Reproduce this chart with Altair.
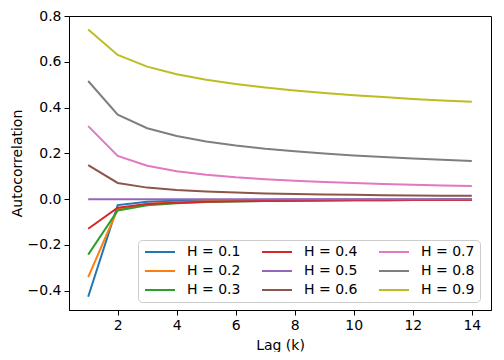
import altair as alt
import pandas as pd

lags = list(range(1, 15))
hurst = [0.1, 0.2, 0.3, 0.4, 0.5, 0.6, 0.7, 0.8, 0.9]

acf_h01 = [-0.426, -0.026, -0.0116, -0.0066, -0.0044, -0.0032, -0.0024, -0.0019, -0.0015, -0.0013, -0.0011, -0.0009, -0.0008, -0.0007]
acf_h02 = [-0.340, -0.044, -0.0215, -0.0131, -0.0091, -0.0068, -0.0053, -0.0043, -0.0036, -0.0030, -0.0026, -0.0022, -0.0020, -0.0018]
acf_h03 = [-0.242, -0.049, -0.0266, -0.0173, -0.0126, -0.0098, -0.0079, -0.0065, -0.0055, -0.0048, -0.0042, -0.0037, -0.0033, -0.0030]
acf_h04 = [-0.129, -0.037, -0.0214, -0.0151, -0.0116, -0.0093, -0.0077, -0.0066, -0.0057, -0.0050, -0.0045, -0.0041, -0.0037, -0.0034]
acf_h05 = [0.0, 0.0, 0.0, 0.0, 0.0, 0.0, 0.0, 0.0, 0.0, 0.0, 0.0, 0.0, 0.0, 0.0]
acf_h06 = [0.149, 0.071, 0.0505, 0.0396, 0.0331, 0.0287, 0.0253, 0.0227, 0.0206, 0.0190, 0.0176, 0.0164, 0.0154, 0.0145]
acf_h07 = [0.319, 0.189, 0.146, 0.122, 0.107, 0.0955, 0.0870, 0.0804, 0.0750, 0.0703, 0.0664, 0.0631, 0.0601, 0.0575]
acf_h08 = [0.516, 0.369, 0.310, 0.276, 0.252, 0.234, 0.220, 0.209, 0.199, 0.191, 0.184, 0.178, 0.172, 0.167]
acf_h09 = [0.741, 0.630, 0.579, 0.546, 0.522, 0.503, 0.488, 0.475, 0.464, 0.454, 0.446, 0.438, 0.431, 0.425]

series = [acf_h01, acf_h02, acf_h03, acf_h04, acf_h05, acf_h06, acf_h07, acf_h08, acf_h09]
colors = ["#1f77b4", "#ff7f0e", "#2ca02c", "#d62728", "#9467bd",
          "#8c564b", "#e377c2", "#7f7f7f", "#bcbd22"]

rows = []
for i, (h, vals) in enumerate(zip(hurst, series)):
    for k, v in zip(lags, vals):
        rows.append({"lag": k, "acf": v, "label": f"H = {h}", "order": i})
df = pd.DataFrame(rows)

labels = [f"H = {h}" for h in hurst]

FONT = "DejaVu Sans"

chart = alt.Chart(df).mark_line(strokeWidth=2, clip=True).encode(
    x=alt.X("lag:Q", scale=alt.Scale(domain=[0.35, 14.65], nice=False, zero=False),
            axis=alt.Axis(title="Lag (k)", values=[2, 4, 6, 8, 10, 12, 14], format="d")),
    y=alt.Y("acf:Q", scale=alt.Scale(domain=[-0.484, 0.8], nice=False, zero=False),
            axis=alt.Axis(title="Autocorrelation", values=[-0.4, -0.2, 0.0, 0.2, 0.4, 0.6, 0.8],
                          format=".1f", labelExpr="replace(datum.label, '-', '\u2212')")),
    color=alt.Color("label:N", scale=alt.Scale(domain=labels, range=colors),
                    legend=alt.Legend(title=None, orient="none", legendX=69, legendY=224,
                                      columns=3, symbolType="M-1,0H5", symbolSize=100,
                                      symbolStrokeWidth=2, labelFontSize=14, labelFont=FONT,
                                      labelColor="black", padding=5, rowPadding=5,
                                      columnPadding=17, labelOffset=30,
                                      fillColor="white", strokeColor="#cccccc",
                                      cornerRadius=4)),
    order=alt.Order("order:Q"),
).properties(
    width=422, height=294,
    autosize=alt.AutoSizeParams(type="none"),
    padding={"left": 61, "top": 8, "right": 5, "bottom": 42},
).configure_view(
    stroke="black", strokeWidth=1
).configure_axis(
    grid=False, domainColor="black", tickColor="black", tickSize=5,
    labelFont=FONT, labelFontSize=14, labelColor="black", labelPadding=3,
    titleFont=FONT, titleFontSize=14, titleFontWeight="normal", titleColor="black",
).configure_axisY(titlePadding=3).configure_axisX(titlePadding=6)

chart.save("out.html", embed_options={"renderer": "svg", "actions": False})
